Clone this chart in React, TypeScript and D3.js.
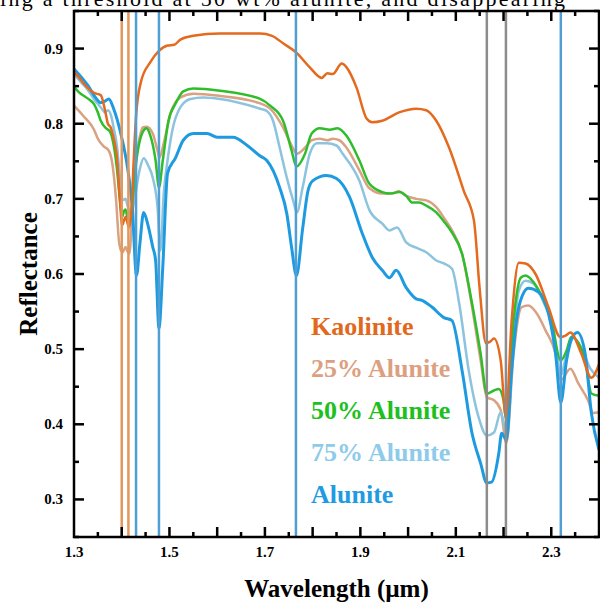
import React, { useEffect, useRef } from "react";
import * as d3 from "d3";

// reflectance spectra, [wavelength (µm), reflectance]
const kaolinite: [number, number][] = [
  [1.3, 0.869], [1.31, 0.862], [1.325, 0.85], [1.342, 0.841], [1.356, 0.838], [1.366, 0.815], [1.371, 0.8],
  [1.377, 0.795], [1.384, 0.778], [1.39, 0.755], [1.396, 0.7], [1.401, 0.665], [1.405, 0.672], [1.408, 0.676],
  [1.412, 0.668], [1.415, 0.662], [1.42, 0.68], [1.425, 0.75], [1.43, 0.81], [1.44, 0.855], [1.46, 0.882],
  [1.478, 0.897], [1.496, 0.904], [1.51, 0.905], [1.523, 0.912], [1.55, 0.917], [1.606, 0.92], [1.69, 0.92],
  [1.715, 0.917], [1.738, 0.907], [1.767, 0.894], [1.794, 0.875], [1.819, 0.861], [1.831, 0.867], [1.842, 0.866],
  [1.861, 0.88], [1.871, 0.875], [1.892, 0.848], [1.913, 0.807], [1.925, 0.802], [1.946, 0.804], [1.981, 0.815],
  [2.017, 0.82], [2.038, 0.818], [2.059, 0.804], [2.086, 0.768], [2.117, 0.71], [2.138, 0.671], [2.15, 0.58],
  [2.163, 0.508], [2.172, 0.51], [2.18, 0.514], [2.194, 0.485], [2.205, 0.409], [2.217, 0.538], [2.232, 0.615],
  [2.246, 0.614], [2.267, 0.6], [2.294, 0.556], [2.319, 0.516], [2.33, 0.518], [2.34, 0.522], [2.363, 0.494],
  [2.384, 0.462], [2.4, 0.48],
];

const alunite25: [number, number][] = [
  [1.3, 0.824], [1.32, 0.81], [1.342, 0.792], [1.35, 0.78], [1.362, 0.77], [1.372, 0.765], [1.38, 0.748],
  [1.388, 0.7], [1.394, 0.645], [1.398, 0.632], [1.402, 0.629], [1.408, 0.636], [1.412, 0.63], [1.416, 0.627],
  [1.423, 0.695], [1.429, 0.745], [1.437, 0.78], [1.444, 0.795], [1.452, 0.796], [1.465, 0.787], [1.475, 0.764],
  [1.479, 0.755], [1.488, 0.774], [1.502, 0.813], [1.523, 0.835], [1.55, 0.84], [1.606, 0.837], [1.69, 0.827],
  [1.711, 0.82], [1.738, 0.795], [1.756, 0.771], [1.767, 0.76], [1.784, 0.768], [1.798, 0.778], [1.815, 0.78],
  [1.831, 0.778], [1.842, 0.78], [1.856, 0.778], [1.871, 0.768], [1.898, 0.738], [1.919, 0.714], [1.946, 0.707],
  [1.967, 0.707], [1.981, 0.71], [1.996, 0.704], [2.017, 0.7], [2.038, 0.698], [2.059, 0.689], [2.075, 0.675],
  [2.092, 0.658], [2.113, 0.627], [2.134, 0.556], [2.152, 0.485], [2.165, 0.436], [2.18, 0.432], [2.194, 0.419],
  [2.206, 0.375], [2.221, 0.494], [2.238, 0.556], [2.252, 0.558], [2.269, 0.548], [2.288, 0.525], [2.309, 0.494],
  [2.32, 0.459], [2.34, 0.474], [2.357, 0.454], [2.377, 0.432], [2.388, 0.415], [2.4, 0.416],
];

const alunite50: [number, number][] = [
  [1.3, 0.849], [1.31, 0.842], [1.33, 0.833], [1.342, 0.826], [1.35, 0.815], [1.356, 0.804], [1.367, 0.794],
  [1.375, 0.79], [1.383, 0.772], [1.39, 0.74], [1.396, 0.7], [1.401, 0.676], [1.405, 0.684], [1.408, 0.686],
  [1.412, 0.675], [1.416, 0.668], [1.423, 0.7], [1.429, 0.742], [1.437, 0.775], [1.444, 0.789], [1.452, 0.794],
  [1.46, 0.784], [1.471, 0.751], [1.478, 0.715], [1.486, 0.751], [1.498, 0.804], [1.513, 0.827], [1.529, 0.843],
  [1.55, 0.847], [1.606, 0.844], [1.69, 0.833], [1.711, 0.824], [1.738, 0.804], [1.756, 0.764], [1.766, 0.743],
  [1.784, 0.76], [1.798, 0.787], [1.815, 0.794], [1.836, 0.792], [1.852, 0.794], [1.871, 0.784], [1.898, 0.751],
  [1.919, 0.72], [1.946, 0.709], [1.961, 0.707], [1.981, 0.709], [1.996, 0.704], [2.009, 0.695], [2.023, 0.695],
  [2.038, 0.691], [2.059, 0.682], [2.075, 0.67], [2.092, 0.655], [2.113, 0.627], [2.134, 0.561], [2.152, 0.494],
  [2.165, 0.441], [2.18, 0.445], [2.19, 0.447], [2.2, 0.432], [2.206, 0.405], [2.221, 0.538], [2.236, 0.595],
  [2.246, 0.598], [2.263, 0.589], [2.284, 0.565], [2.3, 0.538], [2.32, 0.485], [2.332, 0.498], [2.342, 0.516],
  [2.357, 0.508], [2.371, 0.485], [2.384, 0.441], [2.4, 0.438],
];

const alunite75: [number, number][] = [
  [1.3, 0.866], [1.315, 0.855], [1.329, 0.845], [1.345, 0.83], [1.356, 0.822], [1.365, 0.815], [1.371, 0.818],
  [1.378, 0.81], [1.383, 0.795], [1.39, 0.77], [1.396, 0.73], [1.402, 0.698], [1.408, 0.7], [1.413, 0.689],
  [1.419, 0.678], [1.427, 0.7], [1.438, 0.74], [1.446, 0.754], [1.455, 0.745], [1.465, 0.728], [1.475, 0.689],
  [1.481, 0.631], [1.488, 0.707], [1.496, 0.751], [1.506, 0.791], [1.523, 0.822], [1.544, 0.833], [1.571, 0.835],
  [1.606, 0.833], [1.69, 0.82], [1.704, 0.817], [1.717, 0.804], [1.731, 0.768], [1.746, 0.728], [1.759, 0.698],
  [1.767, 0.682], [1.779, 0.715], [1.794, 0.76], [1.809, 0.774], [1.829, 0.774], [1.85, 0.771], [1.863, 0.76],
  [1.898, 0.724], [1.919, 0.685], [1.946, 0.667], [1.961, 0.658], [1.977, 0.662], [1.996, 0.642], [2.017, 0.635],
  [2.038, 0.629], [2.059, 0.618], [2.075, 0.614], [2.092, 0.607], [2.107, 0.561], [2.127, 0.472], [2.148, 0.409],
  [2.165, 0.385], [2.18, 0.389], [2.194, 0.416], [2.206, 0.388], [2.221, 0.516], [2.232, 0.578], [2.246, 0.591],
  [2.263, 0.587], [2.284, 0.562], [2.305, 0.525], [2.32, 0.465], [2.332, 0.494], [2.346, 0.515], [2.363, 0.502],
  [2.382, 0.474], [2.4, 0.462],
];

const alunite: [number, number][] = [
  [1.3, 0.873], [1.31, 0.866], [1.329, 0.851], [1.345, 0.835], [1.356, 0.828], [1.365, 0.83], [1.373, 0.833],
  [1.383, 0.82], [1.398, 0.787], [1.413, 0.738], [1.422, 0.69], [1.431, 0.598], [1.438, 0.64], [1.446, 0.682],
  [1.455, 0.665], [1.465, 0.636], [1.471, 0.618], [1.478, 0.528], [1.486, 0.609], [1.496, 0.734], [1.513, 0.755],
  [1.529, 0.778], [1.55, 0.787], [1.579, 0.787], [1.6, 0.782], [1.633, 0.782], [1.663, 0.771], [1.69, 0.757],
  [1.704, 0.751], [1.731, 0.715], [1.746, 0.68], [1.756, 0.635], [1.766, 0.598], [1.779, 0.66], [1.79, 0.71],
  [1.8, 0.724], [1.829, 0.731], [1.85, 0.727], [1.877, 0.703], [1.904, 0.654], [1.925, 0.622], [1.946, 0.605],
  [1.961, 0.595], [1.975, 0.605], [1.996, 0.582], [2.017, 0.567], [2.029, 0.565], [2.05, 0.556], [2.075, 0.542],
  [2.092, 0.538], [2.113, 0.472], [2.134, 0.388], [2.152, 0.348], [2.165, 0.322], [2.175, 0.323], [2.19, 0.361],
  [2.196, 0.388], [2.206, 0.379], [2.217, 0.472], [2.227, 0.538], [2.238, 0.569], [2.252, 0.581], [2.273, 0.576],
  [2.294, 0.548], [2.309, 0.494], [2.32, 0.429], [2.332, 0.485], [2.346, 0.518], [2.355, 0.522], [2.371, 0.494],
  [2.384, 0.415], [2.4, 0.366],
];

const seriesNames = ["Kaolinite", "25% Alunite", "50% Alunite", "75% Alunite", "Alunite"];

// absorption feature markers (µm)
const kaoliniteLines = [1.4, 1.414];
const aluniteLines = [1.43, 1.478, 1.765, 2.32];
const sharedLines = [2.165, 2.205];

const xTickLabels = [1.3, 1.5, 1.7, 1.9, 2.1, 2.3];
const yTickLabels = [0.3, 0.4, 0.5, 0.6, 0.7, 0.8, 0.9];

const colors = {
  Kaolinite: "#e46a1e",
  "25% Alunite": "#d9a283",
  "50% Alunite": "#2fbd2c",
  "75% Alunite": "#8cc3df",
  Alunite: "#1e9be0",
};
const textColors = {
  Kaolinite: "#e2681c",
  "25% Alunite": "#dca080",
  "50% Alunite": "#20bf20",
  "75% Alunite": "#8ecbea",
  Alunite: "#1e9be2",
};

const App = () => {
  const ref = useRef<SVGSVGElement | null>(null);

  useEffect(() => {
    const svg = d3.select(ref.current);
    svg.selectAll("*").remove();

    const left = 74, right = 599, top = 11, bottom = 537;
    const x = d3.scaleLinear().domain([1.3, 2.4]).range([left, right]);
    const y = d3.scaleLinear().domain([0.25, 0.95]).range([bottom, top]);
    const serif = "'Liberation Serif', 'Times New Roman', serif";

    // caption of the page above the figure, cut off at the top like the source
    svg.append("text")
      .attr("x", 0).attr("y", 6)
      .attr("font-family", serif).attr("font-size", 22)
      .attr("textLength", 565).attr("lengthAdjust", "spacing")
      .text("ing a threshold at 50 wt% alunite, and disappearing");

    svg.append("clipPath").attr("id", "plotclip")
      .append("rect").attr("x", left).attr("y", top)
      .attr("width", right - left).attr("height", bottom - top);

    const plot = svg.append("g").attr("clip-path", "url(#plotclip)");

    const line = d3.line<[number, number]>()
      .x(d => x(d[0])).y(d => y(d[1]))
      .curve(d3.curveMonotoneX);

    const series: [string, [number, number][]][] = [
      ["25% Alunite", alunite25],
      ["75% Alunite", alunite75],
      ["50% Alunite", alunite50],
      ["Alunite", alunite],
      ["Kaolinite", kaolinite],
    ];
    series.forEach(([name, data]) => {
      plot.append("path")
        .attr("d", line(data))
        .attr("fill", "none")
        .attr("stroke", colors[name])
        .attr("stroke-width", name === "Alunite" ? 3 : 2.5)
        .attr("stroke-linejoin", "round");
    });

    // vertical feature lines
    const vlines = [
      ...kaoliniteLines.map(v => [v, "#e3975a"]),
      ...aluniteLines.map(v => [v, "#4f9ed4"]),
      ...sharedLines.map(v => [v, "#8c8c8c"]),
    ] as [number, string][];
    vlines.forEach(([v, c]) => {
      plot.append("line")
        .attr("x1", x(v)).attr("x2", x(v))
        .attr("y1", top).attr("y2", bottom)
        .attr("stroke", c).attr("stroke-width", 2.5);
    });

    // ticks on all sides, pointing inward
    const axes = svg.append("g").attr("stroke", "#000").attr("stroke-width", 2.5);
    const xMinor = d3.range(1.35, 2.4, 0.1);
    const xMajor = d3.range(1.4, 2.4, 0.1);
    const yMinor = d3.range(0.25, 0.96, 0.1);
    const yMajor = d3.range(0.3, 0.91, 0.1);
    const xt = (vals: number[], len: number) => vals.forEach(v => {
      axes.append("line").attr("x1", x(v)).attr("x2", x(v)).attr("y1", bottom).attr("y2", bottom - len);
      axes.append("line").attr("x1", x(v)).attr("x2", x(v)).attr("y1", top).attr("y2", top + len);
    });
    const yt = (vals: number[], len: number) => vals.forEach(v => {
      axes.append("line").attr("y1", y(v)).attr("y2", y(v)).attr("x1", left).attr("x2", left + len);
      axes.append("line").attr("y1", y(v)).attr("y2", y(v)).attr("x1", right).attr("x2", right - len);
    });
    xt(xMinor, 5); xt(xMajor, 10);
    yt(yMinor, 5); yt(yMajor, 10);

    axes.append("rect")
      .attr("x", left).attr("y", top)
      .attr("width", right - left).attr("height", bottom - top)
      .attr("fill", "none");

    // tick labels
    svg.append("g").selectAll("text").data(xTickLabels).enter()
      .append("text")
      .attr("x", d => x(d)).attr("y", 557)
      .attr("text-anchor", "middle")
      .attr("font-family", serif).attr("font-weight", "bold").attr("font-size", 15)
      .text(d => d.toFixed(1));

    svg.append("g").selectAll("text").data(yTickLabels).enter()
      .append("text")
      .attr("x", 63).attr("y", d => y(d))
      .attr("text-anchor", "end").attr("dominant-baseline", "central")
      .attr("font-family", serif).attr("font-weight", "bold").attr("font-size", 15)
      .text(d => d.toFixed(1));

    // axis titles
    svg.append("text")
      .attr("x", (left + right) / 2).attr("y", 597)
      .attr("text-anchor", "middle")
      .attr("font-family", serif).attr("font-weight", "bold").attr("font-size", 25)
      .text("Wavelength (µm)");

    svg.append("text")
      .attr("transform", `translate(37,${y(0.6)}) rotate(-90)`)
      .attr("text-anchor", "middle")
      .attr("font-family", serif).attr("font-weight", "bold").attr("font-size", 25)
      .text("Reflectance");

    // legend
    svg.append("g").selectAll("text").data(seriesNames).enter()
      .append("text")
      .attr("x", 311).attr("y", (d, i) => 335 + i * 42)
      .attr("font-family", serif).attr("font-weight", "bold").attr("font-size", 26)
      .attr("fill", d => textColors[d])
      .text(d => d);
  }, []);

  return (
    <svg ref={ref} width={600} height={603}
      style={{ position: "absolute", left: 0, top: 0, background: "#fff" }} />
  );
};

export default App;
